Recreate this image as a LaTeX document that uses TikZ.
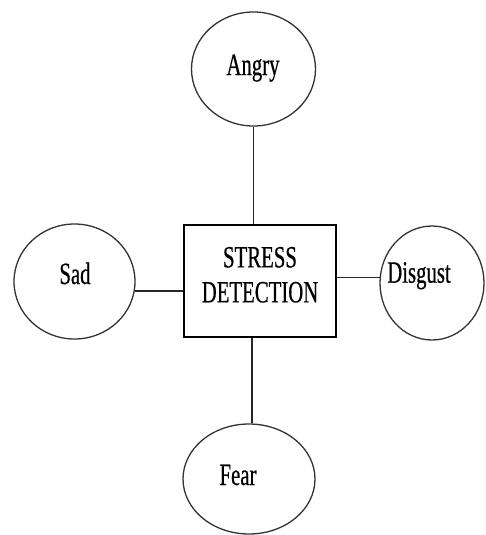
\documentclass[tikz,border=0pt]{standalone}
\usepackage{fontspec}
\setmainfont{Liberation Serif}
\newfontfamily\narrowserif[FakeStretch=0.67,FakeBold=0.5]{Liberation Serif}
\usetikzlibrary{shapes.geometric}
\begin{document}
\begin{tikzpicture}[
  x=1pt, y=-1pt,
  emotion/.style={ellipse, draw=black!80, line width=1.3pt, inner sep=0pt},
  hub/.style={rectangle, draw=black, line width=1.4pt, inner sep=0pt, minimum width=152pt, minimum height=112pt},
  caption/.style={font=\narrowserif\fontsize{31}{35}\selectfont, inner sep=0pt, align=center},
  link/.style={line width=1.2pt, draw=black!85}
]
  \useasboundingbox (0,0) rectangle (485,535);

  % Nodo central
  \node[hub] (stress) at (260,281) {};
  \node[caption] (stresstext) at (260,274.8) {STRESS\\DETECTION};

  % Las cuatro emociones
  \node[emotion, minimum width=124pt, minimum height=114pt] (angry) at (253.5,69) {};
  \node[emotion, minimum width=121pt, minimum height=115pt] (sad) at (74.5,281.5) {};
  \node[emotion, minimum width=104pt, minimum height=114pt] (disgust) at (432,283) {};
  \node[emotion, minimum width=132pt, minimum height=110pt] (fear) at (249,479) {};

  % Etiquetas
  \node[caption, anchor=base] (angrytext) at (253,75) {Angry};
  \node[caption, anchor=base] (sadtext) at (75,284) {Sad};
  \node[caption, anchor=base] (disgusttext) at (419,282.7) {Disgust};
  \node[caption, anchor=base] (feartext) at (238,485) {Fear};

  % Conexiones
  \draw[link] (angry.south) -- (angry.south |- stress.north);
  \draw[link] (sad.-9) -- (sad.-9 -| stress.west);
  \draw[link] (disgust.174) -- (disgust.174 -| stress.east);
  \draw[link] (fear.87) -- (fear.87 |- stress.south);
\end{tikzpicture}
\end{document}
